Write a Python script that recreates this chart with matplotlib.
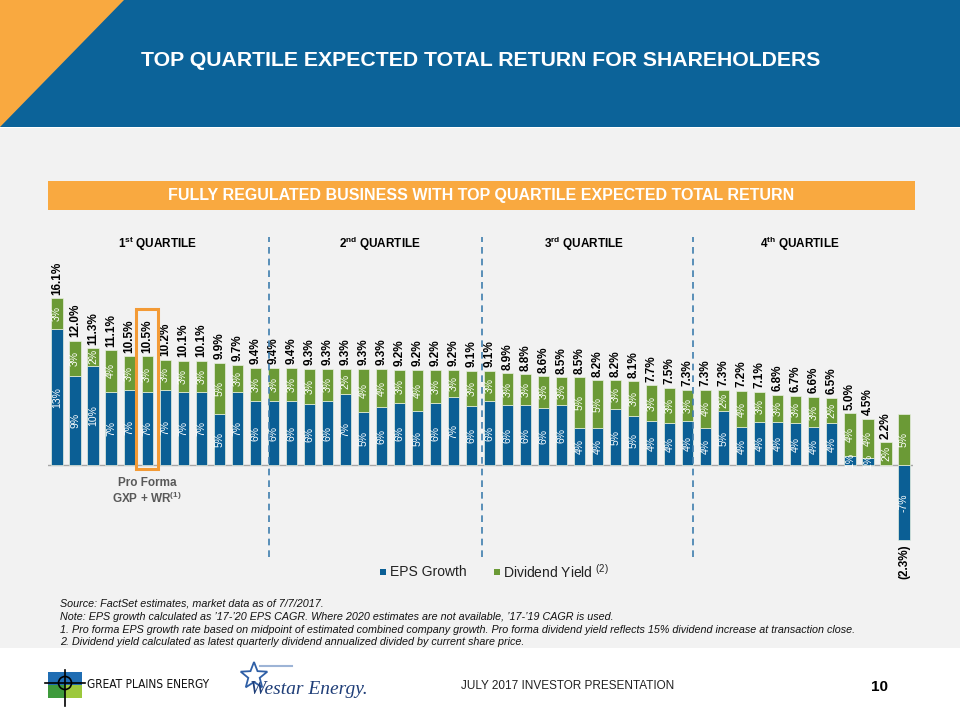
import numpy as np
import matplotlib
matplotlib.use("Agg")
import matplotlib.pyplot as plt
from matplotlib.patches import Rectangle, Polygon, Circle

plt.rcParams['font.family'] = ['Liberation Sans', 'DejaVu Sans']
plt.rcParams['mathtext.fontset'] = 'custom'
plt.rcParams['mathtext.rm'] = 'Liberation Sans'
plt.rcParams['mathtext.bf'] = 'Liberation Sans:bold'

# EPS growth and dividend yield per company (%), sorted by total return
eps_growth = [13.1, 8.6, 9.6, 7.1, 7.3, 7.1, 7.3, 7.1, 7.1, 4.9, 7.1, 6.2,
              6.2, 6.2, 5.9, 6.2, 6.9, 5.1, 5.6, 6.05, 5.2, 6.05, 6.6, 5.7,
              6.2, 5.8, 5.8, 5.55, 5.8, 3.55, 3.6, 5.4, 4.8, 4.3, 4.1, 4.3,
              3.6, 5.2, 3.65, 4.15, 4.15, 4.05, 3.65, 4.1, 0.9, 0.75, 0.0, -7.2]
div_yield = [3.0, 3.4, 1.7, 4.0, 3.2, 3.4, 2.9, 3.0, 3.0, 5.0, 2.6, 3.2,
             3.2, 3.2, 3.4, 3.1, 2.4, 4.2, 3.7, 3.15, 4.0, 3.15, 2.6, 3.4,
             2.9, 3.1, 3.0, 3.05, 2.7, 4.95, 4.6, 2.8, 3.3, 3.4, 3.4, 3.0,
             3.7, 2.1, 3.55, 2.95, 2.65, 2.65, 2.95, 2.4, 4.1, 3.75, 2.2, 4.9]
pro_forma_idx = 5
quartile_names = [r'1$^{\mathbf{st}}$ QUARTILE', r'2$^{\mathbf{nd}}$ QUARTILE',
                  r'3$^{\mathbf{rd}}$ QUARTILE', r'4$^{\mathbf{th}}$ QUARTILE']
quartile_breaks = [11.75, 23.57, 35.28]

blue = '#0B5F95'
green = '#6B9A36'
orange = '#F9A940'
header_blue = '#0C6399'

W, H = 960, 720
fig = plt.figure(figsize=(9.6, 7.2), dpi=100)
fig.patch.set_facecolor('white')

# background layer in pixel coordinates
bg = fig.add_axes([0, 0, 1, 1])
bg.set_xlim(0, W)
bg.set_ylim(H, 0)
bg.axis('off')

bg.add_patch(Rectangle((0, 128), W, 520, color='#F2F2F2', lw=0))
bg.add_patch(Rectangle((0, 0), W, 127, color=header_blue, lw=0))
bg.add_patch(Polygon([(0, 0), (124, 0), (0, 127)], closed=True, color=orange, lw=0))
bg.text(481, 61, 'TOP QUARTILE EXPECTED TOTAL RETURN FOR SHAREHOLDERS',
        color='white', fontsize=15.3, fontweight='bold', ha='center', va='center')

bg.add_patch(Rectangle((48, 181), 867, 29, color=orange, lw=0))
bg.text(481, 195.5, 'FULLY REGULATED BUSINESS WITH TOP QUARTILE EXPECTED TOTAL RETURN',
        color='white', fontsize=11.5, fontweight='bold', ha='center', va='center')

for name, xc in zip(quartile_names, [158, 380, 584, 800]):
    bg.text(xc, 244, name, fontsize=8.5, fontweight='bold', ha='center', va='center',
            color='black')

# legend
bg.add_patch(Rectangle((380, 569), 6, 6, color=blue, lw=0))
bg.text(390, 572, 'EPS Growth', fontsize=10, va='center', color='#222222')
bg.add_patch(Rectangle((494, 569), 6, 6, color=green, lw=0))
bg.text(503, 572, r'Dividend Yield $^{\mathrm{(2)}}$', fontsize=10, va='center',
        color='#222222')

notes = [
    'Source: FactSet estimates, market data as of 7/7/2017.',
    'Note: EPS growth calculated as \u201917-\u201920 EPS CAGR. Where 2020 estimates are not available, \u201917-\u201919 CAGR is used.',
    '1. Pro forma EPS growth rate based on midpoint of estimated combined company growth. Pro forma dividend yield reflects 15% dividend increase at transaction close.',
    '2. Dividend yield calculated as latest quarterly dividend annualized divided by current share price.',
]
for i, line in enumerate(notes):
    bg.text(60, 604 + i * 12.8, line, fontsize=7.75, style='italic', va='center',
            color='#111111')

# footer
bg.text(568, 686, 'JULY 2017 INVESTOR PRESENTATION', fontsize=8.5, ha='center',
        va='center', color='#222222')
bg.text(880, 687, '10', fontsize=11, fontweight='bold', ha='center', va='center',
        color='black')

# Great Plains Energy logo (approximation)
bg.add_patch(Rectangle((48, 672), 34, 13, color='#1F6DB3', lw=0))
bg.add_patch(Rectangle((48, 685), 17, 13, color='#3E9A3C', lw=0))
bg.add_patch(Rectangle((65, 685), 17, 13, color='#9CC83C', lw=0))
bg.add_patch(Circle((65, 683), 6.5, fill=False, ec='black', lw=1.2))
bg.plot([45, 85], [683, 683], color='black', lw=1.2)
bg.plot([65, 65], [670, 706], color='black', lw=1.2)
bg.text(87, 685, 'GREAT PLAINS ENERGY', fontsize=8.6, family='DejaVu Sans',
        fontstretch='condensed', va='center', color='#111111')

# Westar Energy logo (approximation)
ang = np.linspace(np.pi / 2, np.pi / 2 + 2 * np.pi, 11)
rad = np.where(np.arange(11) % 2 == 0, 14, 6)
star = np.column_stack([254 + rad * np.cos(ang), 676 - rad * np.sin(ang)])
bg.add_patch(Polygon(star, closed=True, fill=False, ec='#2F5FA6', lw=1.3))
bg.plot([260, 292], [666, 666], color='#9DB4D6', lw=1.5)
bg.text(250, 689, 'Westar Energy.', fontsize=14, family='Liberation Serif',
        style='italic', va='center', color='#1F3E78')

# chart axes
ax = fig.add_axes([48 / W, 1 - 560 / H, 865 / W, 335 / H])
ax.patch.set_alpha(0)
x = np.arange(len(eps_growth))
eps = np.array(eps_growth)
dy = np.array(div_yield)
bottom_dy = np.where(eps > 0, eps, 0)
ax.bar(x, eps, width=0.62, color=blue, edgecolor='#E8F0E0', linewidth=0.5, zorder=2)
ax.bar(x, dy, width=0.62, bottom=bottom_dy, color=green, edgecolor='#E8F0E0',
       linewidth=0.5, zorder=2)
ax.axhline(0, color='#A6A6A6', lw=1, zorder=1)
ax.set_xlim(-0.5, len(x) - 0.5)
ax.set_ylim(-9.13, 23.17)
ax.axis('off')

for xi, e, d, b in zip(x, eps, dy, bottom_dy):
    if abs(e) >= 0.5:
        ax.text(xi, e / 2, f'{int(np.floor(e + 0.5))}%', rotation=90, color='white',
                fontsize=7.5, ha='center', va='center', zorder=3)
    ax.text(xi, b + d / 2, f'{int(np.floor(d + 0.5))}%', rotation=90, color='white',
            fontsize=7.5, ha='center', va='center', zorder=3)
    total = e + d
    if total >= 0:
        ax.annotate(f'{total:.1f}%', (xi, b + d), xytext=(0, 2.5),
                    textcoords='offset points', rotation=90, ha='center', va='bottom',
                    fontsize=8.5, fontweight='bold')
    else:
        ax.annotate(f'({abs(total):.1f}%)', (xi, e), xytext=(0, -3),
                    textcoords='offset points', rotation=90, ha='center', va='top',
                    fontsize=8.5, fontweight='bold')

for qb in quartile_breaks:
    ax.plot([qb, qb], [-8.85, 22.0], color='#3F7EAE', lw=1.2,
            linestyle=(0, (4, 3)), zorder=4)

# highlight pro forma bar
pf_top = eps[pro_forma_idx] + dy[pro_forma_idx]
ax.add_patch(Rectangle((pro_forma_idx - 0.6, -0.35), 1.2, pf_top + 4.55 + 0.35,
                       fill=False, ec='#F39A35', lw=2.2, zorder=5))
ax.text(pro_forma_idx, -1.1, 'Pro Forma\n' + r'GXP + WR$^{\mathbf{(1)}}$',
        ha='center', va='top', fontsize=8.5, fontweight='bold', color='#595959',
        linespacing=1.15)

fig.savefig('out.png', dpi=100)
